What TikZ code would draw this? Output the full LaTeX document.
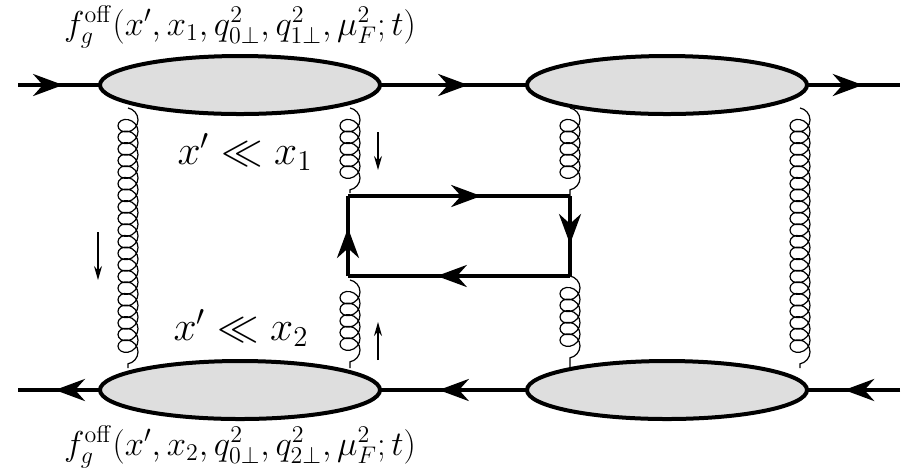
\documentclass[tikz,border=0pt]{standalone}
\usetikzlibrary{arrows.meta,shapes.geometric,decorations.pathmorphing,decorations.markings}
\begin{document}
\begin{tikzpicture}[x=0.5pt,y=-0.5pt,
  blob/.style={ellipse,draw,line width=2pt,fill=black!13,minimum width=140pt,minimum height=29pt,inner sep=0pt},
  fermion/.style={line width=2pt},
  arrowat/.style={postaction={decorate},decoration={markings,mark=at position #1 with {\arrow{Stealth[length=15pt,width=11pt]}}}},
  gluon/.style={line width=0.6pt,decorate,decoration={coil,aspect=0.9,segment length=5.8pt,amplitude=5pt}},
  small/.style={line width=0.7pt,-{Stealth[length=7pt,width=4pt]}},
  lab/.style={font=\huge,inner sep=0pt}]
\useasboundingbox (0,0) rectangle (913,473);
% coordinates
\coordinate (tl) at (18,85); \coordinate (tr) at (900,85);
\coordinate (bl) at (18,390); \coordinate (br) at (900,390);
% fermion lines
\draw[fermion,arrowat=0.55] (tl) -- (100,85);
\draw[fermion] (100,85) -- (380,85);
\draw[fermion,arrowat=0.6] (380,85) -- (527,85);
\draw[fermion] (527,85) -- (807,85);
\draw[fermion,arrowat=0.6] (807,85) -- (tr);
\draw[fermion,arrowat=0.55] (100,390) -- (bl);
\draw[fermion] (380,390) -- (100,390);
\draw[fermion,arrowat=0.6] (527,390) -- (380,390);
\draw[fermion] (807,390) -- (527,390);
\draw[fermion,arrowat=0.6] (br) -- (807,390);
% gluons
\draw[gluon] (128,108) -- (128,368);
\draw[gluon] (350,108) -- (350,193);
\draw[gluon] (350,280) -- (350,368);
\draw[gluon] (570,108) -- (570,196);
\draw[gluon] (570,276) -- (570,368);
\draw[gluon] (800,108) -- (800,368);
% quark box
\coordinate (q1) at (348,196); \coordinate (q2) at (570,196);
\coordinate (q3) at (570,276); \coordinate (q4) at (348,276);
\draw[fermion,arrowat=0.6] (q1) -- (q2);
\draw[fermion,arrowat=0.6] (q2) -- (q3);
\draw[fermion,arrowat=0.6] (q3) -- (q4);
\draw[fermion,arrowat=0.6] (q4) -- (q1);
% blobs
\node[blob] (A) at (240,85) {};
\node[blob] (B) at (667,85) {};
\node[blob] (C) at (240,390) {};
\node[blob] (D) at (667,390) {};
% small arrows
\coordinate (s1a) at (98,232); \coordinate (s1b) at (98,280);
\coordinate (s2a) at (378,132); \coordinate (s2b) at (378,170);
\coordinate (s3a) at (378,360); \coordinate (s3b) at (378,322);
\draw[small] (s1a) -- (s1b);
\draw[small] (s2a) -- (s2b);
\draw[small] (s3a) -- (s3b);
% labels
\node[lab] (l1) at (245,152) {$x'\ll x_1$};
\node[lab] (l2) at (241,328) {$x'\ll x_2$};
\node[font=\LARGE,inner sep=0pt] (t1) at (240,27) {$f_g^{\rm off}(x',x_1,q_{0\perp}^2,q_{1\perp}^2,\mu_F^2;t)$};
\node[font=\LARGE,inner sep=0pt] (t2) at (240,447) {$f_g^{\rm off}(x',x_2,q_{0\perp}^2,q_{2\perp}^2,\mu_F^2;t)$};
\end{tikzpicture}
\end{document}
